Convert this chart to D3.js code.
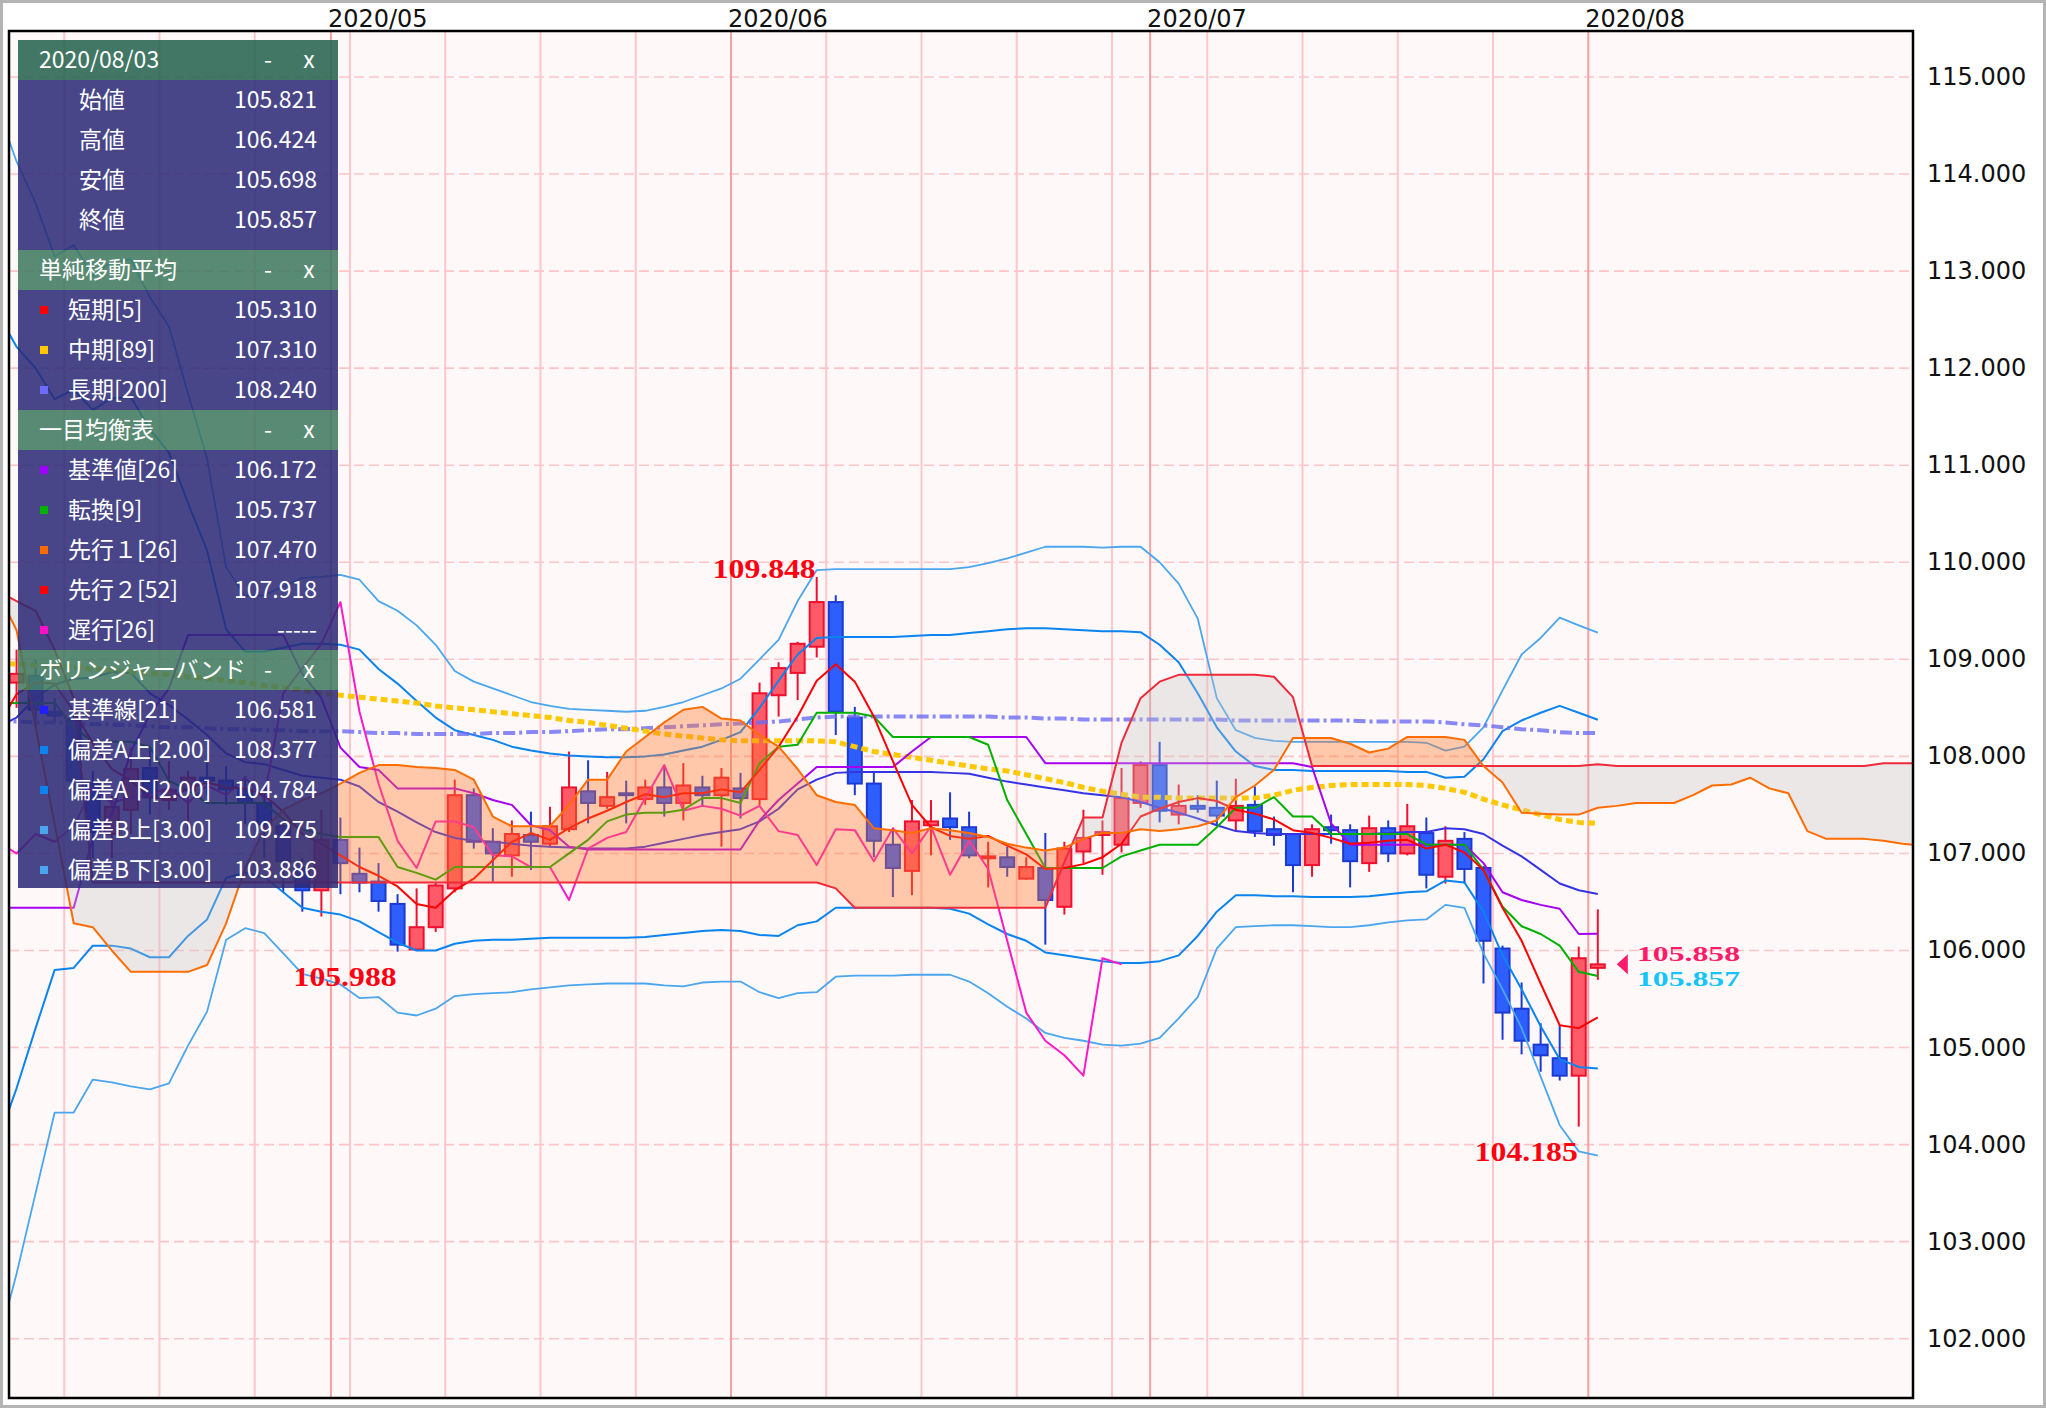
<!DOCTYPE html>
<html><head><meta charset="utf-8">
<script src="https://cdn.jsdelivr.net/npm/d3@7"></script>
<style>body{margin:0;background:#fff}svg{display:block}</style>
</head><body>
<svg id="c" width="2046" height="1408"></svg>
<script>
// ---------- data ----------
const dates = ["2020-04-07","2020-04-08","2020-04-09","2020-04-10","2020-04-13","2020-04-14","2020-04-15","2020-04-16","2020-04-17","2020-04-20",
"2020-04-21","2020-04-22","2020-04-23","2020-04-24","2020-04-27","2020-04-28","2020-04-29","2020-04-30","2020-05-01","2020-05-04",
"2020-05-05","2020-05-06","2020-05-07","2020-05-08","2020-05-11","2020-05-12","2020-05-13","2020-05-14","2020-05-15","2020-05-18",
"2020-05-19","2020-05-20","2020-05-21","2020-05-22","2020-05-25","2020-05-26","2020-05-27","2020-05-28","2020-05-29","2020-06-01",
"2020-06-02","2020-06-03","2020-06-04","2020-06-05","2020-06-08","2020-06-09","2020-06-10","2020-06-11","2020-06-12","2020-06-15",
"2020-06-16","2020-06-17","2020-06-18","2020-06-19","2020-06-22","2020-06-23","2020-06-24","2020-06-25","2020-06-26","2020-06-29",
"2020-06-30","2020-07-01","2020-07-02","2020-07-03","2020-07-06","2020-07-07","2020-07-08","2020-07-09","2020-07-10","2020-07-13",
"2020-07-14","2020-07-15","2020-07-16","2020-07-17","2020-07-20","2020-07-21","2020-07-22","2020-07-23","2020-07-24","2020-07-27",
"2020-07-28","2020-07-29","2020-07-30","2020-07-31","2020-08-03"];

const open = [109.20,108.76,108.83,108.46,108.38,107.72,107.20,107.45,107.88,107.55,
107.65,107.78,107.75,107.66,107.52,107.28,106.85,106.62,107.14,106.79,
106.71,106.48,106.01,106.24,106.64,107.60,107.12,106.98,107.19,107.10,
107.25,107.64,107.49,107.62,107.56,107.68,107.52,107.68,107.60,107.67,
107.56,108.63,108.86,109.13,109.59,108.40,107.72,107.09,106.82,107.29,
107.36,107.27,106.95,106.96,106.74,106.85,106.45,107.02,107.19,107.09,
107.52,107.91,107.40,107.49,107.47,107.34,107.50,107.25,107.20,106.88,
107.27,107.24,106.90,107.26,107.00,107.21,106.76,107.15,106.85,106.02,
105.40,105.03,104.89,104.71,105.821];
const high = [109.38,109.10,109.00,108.60,108.42,107.85,107.60,108.09,108.08,107.95,
107.85,107.93,107.90,107.80,107.60,107.30,106.95,107.45,107.37,107.06,
106.90,106.58,106.64,106.70,107.76,107.67,107.26,107.34,107.43,107.48,
108.05,107.96,107.84,107.75,107.76,107.91,107.93,107.80,107.88,107.83,
108.76,108.97,109.18,109.848,109.66,108.51,107.85,107.26,107.55,107.55,
107.63,107.43,107.12,107.07,106.96,107.21,107.12,107.45,107.34,107.88,
107.95,108.15,107.71,107.60,107.75,107.77,107.69,107.38,107.21,107.30,
107.40,107.30,107.39,107.34,107.51,107.37,107.28,107.22,106.87,106.05,
105.67,105.25,105.23,106.04,106.424];
const low = [108.60,108.50,108.30,108.35,107.60,106.95,106.95,107.20,107.40,107.45,
107.25,107.60,107.50,107.30,106.95,106.60,106.40,106.35,106.58,106.60,
106.40,105.988,106.00,106.19,106.60,107.05,106.71,106.76,106.83,107.06,
107.22,107.31,107.46,107.31,107.50,107.38,107.34,107.48,107.07,107.36,
107.50,108.41,108.58,109.02,108.22,107.60,106.96,106.55,106.57,106.98,
107.14,106.95,106.65,106.76,106.73,106.06,106.37,106.90,106.78,107.01,
107.47,107.32,107.30,107.42,107.28,107.23,107.17,107.08,106.60,106.76,
107.10,106.65,106.81,106.91,106.98,106.64,106.69,106.69,105.66,105.08,
104.93,104.75,104.66,104.185,105.698];
const close = [108.78,108.85,108.48,108.42,107.75,107.22,107.48,107.87,107.58,107.65,
107.78,107.75,107.66,107.52,107.30,106.92,106.62,107.14,106.90,106.70,
106.51,106.06,106.24,106.67,107.60,107.12,107.00,107.20,107.12,107.28,
107.68,107.52,107.58,107.60,107.68,107.52,107.70,107.60,107.78,107.57,
108.65,108.91,109.16,109.59,108.46,107.72,107.13,106.85,107.33,107.33,
107.27,106.98,106.97,106.86,106.86,106.52,107.05,107.16,107.22,107.57,
107.91,107.44,107.49,107.46,107.39,107.49,107.23,107.19,106.88,107.25,
107.24,106.92,107.26,107.00,107.28,106.78,107.13,106.84,106.10,105.36,
105.07,104.92,104.71,105.92,105.857];

const sma5 = [108.31,108.64,108.76,108.75,108.46,108.14,107.87,107.75,107.58,107.56,
107.67,107.73,107.68,107.67,107.60,107.43,107.20,107.10,106.98,106.86,
106.77,106.66,106.48,106.44,106.62,106.74,106.93,107.12,107.21,107.14,
107.26,107.36,107.44,107.53,107.61,107.58,107.62,107.62,107.66,107.63,
107.86,108.10,108.41,108.78,108.95,108.77,108.41,107.95,107.50,107.27,
107.18,107.15,107.18,107.08,106.99,106.84,106.85,106.89,106.96,107.10,
107.38,107.46,107.53,107.57,107.54,107.45,107.41,107.35,107.24,107.21,
107.16,107.10,107.11,107.13,107.14,107.05,107.09,107.01,106.83,106.44,
106.10,105.66,105.23,105.20,105.31];
const sma89 = [108.96,108.95,108.94,108.93,108.92,108.90,108.89,108.87,108.86,108.84,
108.82,108.80,108.78,108.76,108.73,108.71,108.68,108.65,108.63,108.61,
108.59,108.57,108.55,108.52,108.50,108.48,108.46,108.44,108.42,108.40,
108.37,108.35,108.32,108.29,108.26,108.23,108.21,108.19,108.17,108.16,
108.16,108.16,108.16,108.16,108.15,108.10,108.05,108.02,107.99,107.96,
107.93,107.90,107.87,107.85,107.81,107.77,107.73,107.68,107.64,107.61,
107.58,107.58,107.57,107.57,107.57,107.57,107.57,107.60,107.65,107.68,
107.70,107.71,107.71,107.71,107.71,107.70,107.67,107.63,107.56,107.50,
107.45,107.40,107.35,107.32,107.31];
const sma200 = [108.36,108.36,108.35,108.35,108.34,108.33,108.33,108.32,108.31,108.30,
108.30,108.29,108.28,108.28,108.27,108.27,108.26,108.26,108.26,108.25,
108.24,108.24,108.23,108.23,108.23,108.23,108.24,108.24,108.25,108.25,
108.26,108.27,108.28,108.28,108.29,108.30,108.31,108.32,108.33,108.34,
108.35,108.36,108.38,108.40,108.41,108.41,108.41,108.41,108.41,108.41,
108.41,108.41,108.41,108.40,108.40,108.39,108.39,108.38,108.38,108.38,
108.38,108.38,108.38,108.38,108.38,108.37,108.37,108.37,108.37,108.37,
108.37,108.37,108.36,108.36,108.36,108.36,108.35,108.33,108.32,108.30,
108.28,108.27,108.25,108.24,108.24];

const tenkan = [108.55,108.55,108.55,108.55,108.30,108.15,108.15,108.15,108.10,107.75,
107.65,107.52,107.52,107.52,107.52,107.35,107.25,107.20,107.17,107.17,
107.17,106.86,106.80,106.73,106.86,106.86,106.86,106.86,106.86,106.86,
107.00,107.14,107.33,107.40,107.42,107.42,107.45,107.57,107.57,107.52,
107.93,108.10,108.12,108.45,108.45,108.45,108.41,108.20,108.20,108.20,
108.20,108.20,108.12,107.55,107.20,106.85,106.85,106.85,106.85,106.97,
107.03,107.09,107.09,107.09,107.27,107.47,107.47,107.58,107.38,107.38,
107.20,107.20,107.20,107.20,107.20,107.09,107.09,107.09,106.83,106.45,
106.25,106.17,106.05,105.78,105.737];
const kijun = [106.44,106.44,106.44,106.44,106.44,107.15,107.40,108.05,108.43,108.70,
109.25,109.25,109.25,109.25,109.25,109.25,108.85,108.60,108.09,107.89,
107.86,107.67,107.67,107.67,107.67,107.62,107.55,107.50,107.29,107.24,
107.07,107.04,107.04,107.04,107.04,107.04,107.04,107.04,107.04,107.04,
107.34,107.55,107.72,107.89,107.89,107.89,107.89,107.89,108.05,108.20,
108.20,108.20,108.20,108.20,108.20,107.93,107.93,107.93,107.93,107.93,
107.93,107.93,107.93,107.93,107.93,107.93,107.93,107.93,107.93,107.89,
107.31,107.09,107.09,107.09,107.09,107.09,107.09,107.09,106.90,106.60,
106.52,106.47,106.43,106.17,106.172];
// leading spans, already placed at their plotted (shifted) positions
const senkouA = [109.70,109.30,108.30,107.30,106.28,106.24,106.00,105.78,105.78,105.78,
105.78,105.85,106.28,106.85,107.25,107.45,107.55,107.62,107.72,107.83,
107.91,107.91,107.89,107.88,107.86,107.76,107.38,107.28,107.28,107.28,
107.50,107.76,107.76,108.05,108.20,108.35,108.48,108.51,108.39,108.37,
108.22,108.10,107.87,107.60,107.53,107.50,107.26,107.24,107.21,107.26,
107.24,107.21,107.17,107.10,107.06,107.03,107.06,107.15,107.21,107.21,
107.25,107.23,107.25,107.28,107.34,107.58,107.70,107.86,108.19,108.19,
108.19,108.13,108.04,108.08,108.20,108.20,108.20,108.17,107.90,107.73,
107.42,107.41,107.40,107.40,107.47,107.49,107.52,107.52,107.52,107.60,
107.70,107.71,107.78,107.67,107.62,107.23,107.15,107.15,107.15,107.13,
107.10,107.08];
const senkouB = [109.70,109.60,109.50,109.10,108.60,106.70,106.70,106.70,106.70,106.70,
106.70,106.70,106.70,106.70,106.70,106.70,106.70,106.70,106.70,106.70,
106.70,106.70,106.70,106.70,106.70,106.70,106.70,106.70,106.70,106.70,
106.70,106.70,106.70,106.70,106.70,106.70,106.70,106.70,106.70,106.70,
106.70,106.70,106.70,106.70,106.64,106.44,106.44,106.44,106.44,106.44,
106.44,106.44,106.44,106.44,106.44,106.44,106.91,107.37,107.37,108.14,
108.60,108.77,108.84,108.84,108.84,108.84,108.84,108.82,108.61,107.90,
107.90,107.90,107.90,107.90,107.90,107.90,107.90,107.90,107.90,107.90,
107.90,107.90,107.90,107.90,107.918,107.90,107.90,107.90,107.90,107.90,
107.90,107.90,107.90,107.90,107.90,107.90,107.90,107.90,107.90,107.93,
107.93,107.93];

const bbUp3 = [114.68,114.13,113.70,113.15,113.27,112.95,113.10,113.12,112.73,112.43,
111.74,111.07,109.95,109.65,109.66,109.75,109.84,109.85,109.87,109.82,
109.60,109.50,109.35,109.15,108.88,108.77,108.70,108.63,108.56,108.52,
108.49,108.48,108.47,108.46,108.47,108.51,108.56,108.63,108.70,108.80,
109.00,109.20,109.60,109.92,109.93,109.93,109.93,109.93,109.93,109.93,
109.93,109.95,109.99,110.04,110.10,110.16,110.16,110.16,110.15,110.16,
110.16,110.00,109.78,109.42,108.60,108.27,108.19,108.16,108.15,108.15,
108.15,108.15,108.15,108.15,108.15,108.14,108.06,108.10,108.30,108.68,
109.05,109.22,109.43,109.35,109.275];
const bbUp2 = [112.57,112.22,112.00,111.68,111.78,111.57,111.69,111.70,111.37,111.13,
110.61,110.12,109.31,109.08,109.08,109.12,109.16,109.16,109.15,109.10,
108.90,108.75,108.57,108.40,108.27,108.22,108.17,108.10,108.06,108.03,
108.01,108.00,107.99,107.99,108.00,108.02,108.06,108.10,108.17,108.25,
108.50,108.78,109.05,109.22,109.23,109.23,109.23,109.23,109.24,109.25,
109.25,109.27,109.29,109.31,109.32,109.32,109.31,109.30,109.29,109.29,
109.28,109.15,108.97,108.65,108.30,108.05,107.90,107.86,107.86,107.85,
107.85,107.85,107.85,107.85,107.84,107.84,107.78,107.79,107.97,108.26,
108.37,108.45,108.52,108.45,108.377];
const bbMid = [108.30,108.40,108.60,108.74,108.80,108.81,108.87,108.86,108.65,108.53,
108.38,108.22,108.03,107.94,107.92,107.86,107.80,107.78,107.76,107.69,
107.53,107.43,107.32,107.22,107.16,107.13,107.12,107.10,107.08,107.07,
107.06,107.05,107.05,107.05,107.07,107.11,107.15,107.19,107.22,107.25,
107.33,107.46,107.66,107.76,107.83,107.84,107.84,107.84,107.84,107.84,
107.83,107.82,107.78,107.74,107.71,107.68,107.65,107.62,107.60,107.58,
107.53,107.47,107.42,107.36,107.29,107.23,107.21,107.20,107.20,107.20,
107.20,107.20,107.20,107.21,107.22,107.22,107.26,107.25,107.20,107.08,
106.97,106.83,106.69,106.62,106.581];
const bbLo2 = [104.03,104.58,105.20,105.80,105.82,106.05,106.05,106.02,105.93,105.93,
106.15,106.32,106.75,106.80,106.76,106.60,106.44,106.40,106.37,106.30,
106.19,106.08,106.00,106.00,106.07,106.10,106.11,106.11,106.12,106.13,
106.13,106.13,106.13,106.13,106.14,106.16,106.18,106.20,106.21,106.20,
106.16,106.15,106.26,106.30,106.44,106.44,106.44,106.44,106.44,106.44,
106.43,106.38,106.27,106.17,106.10,105.98,105.95,105.92,105.89,105.87,
105.87,105.89,105.95,106.15,106.40,106.57,106.57,106.56,106.56,106.55,
106.55,106.55,106.56,106.58,106.60,106.61,106.72,106.70,106.40,105.95,
105.60,105.22,104.88,104.80,104.784];
const bbLo3 = [101.92,102.67,103.50,104.33,104.33,104.67,104.64,104.60,104.57,104.63,
105.02,105.37,106.11,106.23,106.18,105.97,105.76,105.71,105.65,105.51,
105.52,105.36,105.33,105.40,105.53,105.55,105.56,105.57,105.60,105.62,
105.64,105.65,105.66,105.66,105.66,105.64,105.63,105.67,105.68,105.68,
105.57,105.51,105.56,105.57,105.73,105.74,105.74,105.74,105.75,105.75,
105.75,105.68,105.56,105.42,105.30,105.15,105.10,105.07,105.03,105.02,
105.04,105.10,105.30,105.52,106.02,106.24,106.25,106.26,106.26,106.25,
106.24,106.24,106.26,106.29,106.31,106.32,106.47,106.44,105.97,105.60,
105.20,104.70,104.20,103.93,103.886];
const chikouShift = 25;

const yTicks = [102,103,104,105,106,107,108,109,110,111,112,113,114,115];
const extremes = [{i:43, key:"high"}, {i:21, key:"low"}, {i:83, key:"low"}];
const priceTags = [["105.858","#ff1a6a"],["105.857","#14c4ff"]];

const panelDate = "2020/08/03";
const ohlcLabels = ["始値","高値","安値","終値"];
const ohlcValues = ["105.821","106.424","105.698","105.857"];
const smaRows = [["短期[5]","105.310","#ff0000"],["中期[89]","107.310","#ffc800"],["長期[200]","108.240","#6c6cff"]];
const ichiRows = [["基準値[26]","106.172","#a000ff"],["転換[9]","105.737","#00b400"],["先行１[26]","107.470","#ff6a00"],["先行２[52]","107.918","#ff0000"],["遅行[26]","-----","#ff10c8"]];
const bbRows = [["基準線[21]","106.581","#2020ff"],["偏差A上[2.00]","108.377","#0a84f0"],["偏差A下[2.00]","104.784","#0a84f0"],["偏差B上[3.00]","109.275","#4aa6ee"],["偏差B下[3.00]","103.886","#4aa6ee"]];

// ---------- layout ----------
const W = 2046, H = 1408;
const P = {l: 9, t: 31, r: 1913, b: 1398};
const x = d3.scaleLinear().domain([39, 84]).range([740.5, 1597.8]);
const y = d3.scaleLinear().domain([102, 115]).range([1338.7, 77]);
const svg = d3.select("#c");

svg.append("rect").attr("width", W).attr("height", H).attr("fill", "#fff");
svg.append("rect").attr("x", 1.5).attr("y", 1.5).attr("width", W - 3).attr("height", H - 3)
  .attr("fill", "none").attr("stroke", "#b4b4b4").attr("stroke-width", 3);
svg.append("rect").attr("x", P.l).attr("y", P.t).attr("width", P.r - P.l).attr("height", P.b - P.t).attr("fill", "#fff8f8");
svg.append("defs").append("clipPath").attr("id", "clip").append("rect")
  .attr("x", P.l).attr("y", P.t).attr("width", P.r - P.l).attr("height", P.b - P.t);

const grid = svg.append("g").attr("clip-path", "url(#clip)");
yTicks.forEach(v => {
  grid.append("line").attr("x1", P.l).attr("x2", P.r).attr("y1", y(v)).attr("y2", y(v))
    .attr("stroke", "#ffc4c6").attr("stroke-width", 1.6).attr("stroke-dasharray", "10,5");
});
const parse = d3.timeParse("%Y-%m-%d");
const pd = dates.map(parse);
pd.forEach((d, i) => {
  if (i === 0) return;
  const monthStart = d.getMonth() !== pd[i - 1].getMonth();
  const monday = d.getDay() === 1;
  if (!monthStart && !monday) return;
  const lx = x(i) - 9.5;
  grid.append("line").attr("x1", lx).attr("x2", lx).attr("y1", P.t).attr("y2", P.b)
    .attr("stroke", monthStart ? "#f5a0a2" : "#ffc6cc").attr("stroke-width", 2);
  if (monthStart) {
    svg.append("text").attr("x", lx - 3).attr("y", 27).attr("font-family", "DejaVu Sans")
      .attr("font-size", 24).attr("fill", "#111").text(d3.timeFormat("%Y/%m")(d));
  }
});

const g = svg.append("g").attr("clip-path", "url(#clip)");
// candles
dates.forEach((d, i) => {
  const up = close[i] >= open[i];
  const stroke = up ? "#f0102e" : "#1a3ad2";
  const fill = up ? "#ff5a68" : "#2f5eff";
  g.append("line").attr("x1", x(i)).attr("x2", x(i)).attr("y1", y(high[i])).attr("y2", y(low[i]))
    .attr("stroke", stroke).attr("stroke-width", 2);
  const yt = y(Math.max(open[i], close[i])), yb = y(Math.min(open[i], close[i]));
  g.append("rect").attr("x", x(i) - 7).attr("y", yt).attr("width", 14).attr("height", Math.max(yb - yt, 1))
    .attr("fill", fill).attr("stroke", stroke).attr("stroke-width", 2);
});

function drawLine(arr, color, w, dash, op, offset) {
  const gen = d3.line().x((d, i) => x(i + (offset || 0))).y(d => y(d));
  const p = g.append("path").attr("d", gen(arr)).attr("fill", "none").attr("stroke", color)
    .attr("stroke-width", w).attr("stroke-linejoin", "round");
  if (dash) p.attr("stroke-dasharray", dash);
  if (op) p.attr("opacity", op);
}
drawLine(bbUp3, "#4aa6ee", 1.8);
drawLine(bbLo3, "#4aa6ee", 1.8);
drawLine(bbUp2, "#0a84f0", 2);
drawLine(bbLo2, "#0a84f0", 2);
drawLine(bbMid, "#3434e6", 2);
drawLine(sma200, "#6c6cf6", 4, "12,4,3,4", 0.8);
drawLine(sma89, "#ffc800", 5, "7,4");
drawLine(close.slice(chikouShift), "#ff18c8", 2);
drawLine(kijun, "#a800f0", 2);
drawLine(tenkan, "#00b000", 2);
drawLine(sma5, "#ff0000", 2);

// cloud
function cloudPolys(A, B) {
  const polys = []; let cur = null;
  for (let i = 0; i < A.length; i++) {
    const s = A[i] >= B[i] ? 1 : -1;
    if (!cur) { cur = {s, pts: [[i, A[i], B[i]]]}; continue; }
    if (s !== cur.s) {
      const d0 = A[i - 1] - B[i - 1], d1 = A[i] - B[i];
      const t = d0 / (d0 - d1);
      const xi = i - 1 + t, vi = A[i - 1] + t * (A[i] - A[i - 1]);
      cur.pts.push([xi, vi, vi]); polys.push(cur);
      cur = {s, pts: [[xi, vi, vi], [i, A[i], B[i]]]};
    } else cur.pts.push([i, A[i], B[i]]);
  }
  polys.push(cur);
  return polys;
}
cloudPolys(senkouA, senkouB).forEach(pg => {
  const pts = pg.pts.map(p => [x(p[0]), y(p[1])]).concat(pg.pts.slice().reverse().map(p => [x(p[0]), y(p[2])]));
  g.append("path").attr("d", "M" + pts.map(p => p.join(",")).join("L") + "Z")
    .attr("fill", pg.s > 0 ? "rgba(255,120,40,0.375)" : "rgba(196,196,196,0.32)").attr("stroke", "none");
});
drawLine(senkouB, "#f02a3a", 2);
drawLine(senkouA, "#ff6c00", 2);

// extreme labels
extremes.forEach(e => {
  const v = e.key === "high" ? high[e.i] : low[e.i];
  const yb = e.key === "high" ? y(v) + 1 : y(v) + 34;
  svg.append("text").attr("x", x(e.i) - 1).attr("y", yb).attr("text-anchor", "end")
    .attr("font-family", "Liberation Serif").attr("font-weight", "bold").attr("font-size", 28)
    .attr("textLength", 103).attr("lengthAdjust", "spacingAndGlyphs").attr("fill", "#ff0010").text(v.toFixed(3));
});
// current price tag
const last = close.length - 1, cy = y(close[last]);
svg.append("path").attr("d", `M${x(last) + 19},${cy}L${x(last) + 30},${cy - 10}L${x(last) + 30},${cy + 10}Z`).attr("fill", "#ff1a6a");
priceTags.forEach((t, k) => {
  svg.append("text").attr("x", 1637).attr("y", cy - 3 + k * 25).attr("font-family", "Liberation Serif")
    .attr("font-weight", "bold").attr("font-size", 22).attr("textLength", 103).attr("lengthAdjust", "spacingAndGlyphs")
    .attr("fill", t[1]).text(t[0]);
});

// plot border + right axis
svg.append("rect").attr("x", P.l).attr("y", P.t).attr("width", P.r - P.l).attr("height", P.b - P.t)
  .attr("fill", "none").attr("stroke", "#000").attr("stroke-width", 2.5);
yTicks.forEach(v => {
  svg.append("text").attr("x", 1927).attr("y", y(v)).attr("dominant-baseline", "central")
    .attr("font-family", "DejaVu Sans").attr("font-size", 24).attr("fill", "#111").text(v.toFixed(3));
});

// ---------- info panel ----------
const pgp = svg.append("g").attr("font-family", "'Noto Sans CJK JP', sans-serif").attr("font-size", 23).attr("fill", "#fff");
const PX = 18, PW = 320;
const body = "rgba(42,41,118,0.86)";
[[80, 250], [290, 410], [450, 650], [690, 888]].forEach(r => {
  pgp.append("rect").attr("x", PX).attr("y", r[0]).attr("width", PW).attr("height", r[1] - r[0]).attr("fill", body);
});
const headers = [[40, panelDate, "rgba(40,100,80,0.88)"], [250, "単純移動平均", "rgba(62,120,94,0.86)"], [410, "一目均衡表", "rgba(62,120,94,0.86)"], [650, "ボリンジャーバンド", "rgba(62,120,94,0.86)"]];
headers.forEach(h => {
  pgp.append("rect").attr("x", PX).attr("y", h[0]).attr("width", PW).attr("height", 40).attr("fill", h[2]);
  pgp.append("text").attr("x", 39).attr("y", h[0] + 28).text(h[1]);
  pgp.append("text").attr("x", 268).attr("y", h[0] + 28).attr("text-anchor", "middle").text("-");
  pgp.append("text").attr("x", 309).attr("y", h[0] + 28).attr("text-anchor", "middle").text("x");
});
ohlcLabels.forEach((l, k) => {
  const cyy = 100 + k * 40;
  pgp.append("text").attr("x", 79).attr("y", cyy + 8).text(l);
  pgp.append("text").attr("x", 317).attr("y", cyy + 8).attr("text-anchor", "end").text(ohlcValues[k]);
});
function rows(list, y0) {
  list.forEach((r, k) => {
    const cyy = y0 + k * 40;
    pgp.append("rect").attr("x", 40).attr("y", cyy - 4).attr("width", 8).attr("height", 8).attr("fill", r[2]);
    pgp.append("text").attr("x", 68).attr("y", cyy + 8).text(r[0]);
    pgp.append("text").attr("x", 317).attr("y", cyy + 8).attr("text-anchor", "end").text(r[1]);
  });
}
rows(smaRows, 310);
rows(ichiRows, 470);
rows(bbRows, 710);
</script>
</body></html>
